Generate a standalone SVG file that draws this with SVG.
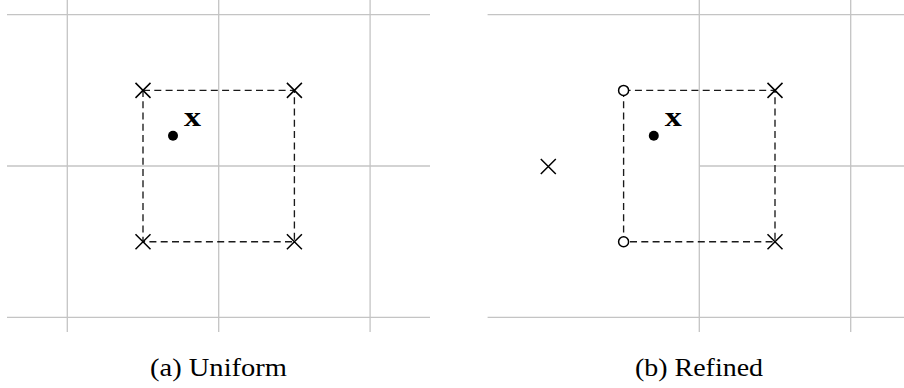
<svg xmlns="http://www.w3.org/2000/svg" width="904" height="388" viewBox="0 0 904 388">
  <style>
    .grid { stroke: #c4c4c4; stroke-width: 1.3; fill: none; }
    .box { stroke: #1a1a1a; stroke-width: 1.35; stroke-dasharray: 7 4.3; fill: none; }
    .cross { stroke: #000; stroke-width: 1.5; fill: none; }
    .hollow { stroke: #000; stroke-width: 1.5; fill: #fff; }
    .pt { fill: #000; }
    .lbl { font-family: "Liberation Serif", "DejaVu Serif", serif; font-weight: bold; font-size: 28px; fill: #000; }
    .cap { font-family: "Liberation Serif", "DejaVu Serif", serif; font-size: 26px; fill: #000; }
  </style>
  <defs>
    <path id="xmark" class="cross" d="M-7.5,-7.5 L7.5,7.5 M-7.5,7.5 L7.5,-7.5"/>
  </defs>

  <!-- (a) uniform mesh -->
  <g id="grid-a" class="grid">
    <line x1="7" y1="14.7" x2="430" y2="14.7"/>
    <line x1="7" y1="166" x2="430" y2="166"/>
    <line x1="7" y1="317.3" x2="430" y2="317.3"/>
    <line x1="67.3" y1="0" x2="67.3" y2="332"/>
    <line x1="218.7" y1="0" x2="218.7" y2="332"/>
    <line x1="370.1" y1="0" x2="370.1" y2="332"/>
  </g>

  <!-- (b) refined mesh -->
  <g id="grid-b" class="grid">
    <line x1="487.6" y1="14.7" x2="910" y2="14.7"/>
    <line x1="699.3" y1="166" x2="910" y2="166"/>
    <line x1="487.6" y1="317.3" x2="910" y2="317.3"/>
    <line x1="699.3" y1="0" x2="699.3" y2="332"/>
    <line x1="850.7" y1="0" x2="850.7" y2="332"/>
  </g>

  <!-- stencil boxes -->
  <g id="connectors">
    <rect class="box" x="143" y="90.4" width="151.4" height="151.3"/>
    <rect class="box" x="623.6" y="90.4" width="151.4" height="151.3"/>
  </g>

  <!-- nodes, panel (a) -->
  <g id="a-n1"><use href="#xmark" x="143" y="90.4"/></g>
  <g id="a-n2"><use href="#xmark" x="294.4" y="90.4"/></g>
  <g id="a-n3"><use href="#xmark" x="143" y="241.7"/></g>
  <g id="a-n4"><use href="#xmark" x="294.4" y="241.7"/></g>
  <g id="a-x">
    <circle class="pt" cx="173" cy="135.7" r="5"/>
    <text class="lbl" x="184" y="126" textLength="17" lengthAdjust="spacingAndGlyphs">x</text>
  </g>

  <!-- nodes, panel (b) -->
  <g id="b-n1"><circle class="hollow" cx="623.6" cy="90.4" r="5"/></g>
  <g id="b-n2"><use href="#xmark" x="775" y="90.4"/></g>
  <g id="b-n3"><circle class="hollow" cx="623.6" cy="241.7" r="5"/></g>
  <g id="b-n4"><use href="#xmark" x="775" y="241.7"/></g>
  <g id="b-n5"><use href="#xmark" x="548.3" y="166.5"/></g>
  <g id="b-x">
    <circle class="pt" cx="653.8" cy="135.7" r="5"/>
    <text class="lbl" x="664.8" y="126" textLength="17" lengthAdjust="spacingAndGlyphs">x</text>
  </g>

  <!-- captions -->
  <text class="cap" x="150" y="375.5" textLength="137" lengthAdjust="spacingAndGlyphs">(a) Uniform</text>
  <text class="cap" x="635" y="375.5" textLength="128" lengthAdjust="spacingAndGlyphs">(b) Refined</text>
</svg>
